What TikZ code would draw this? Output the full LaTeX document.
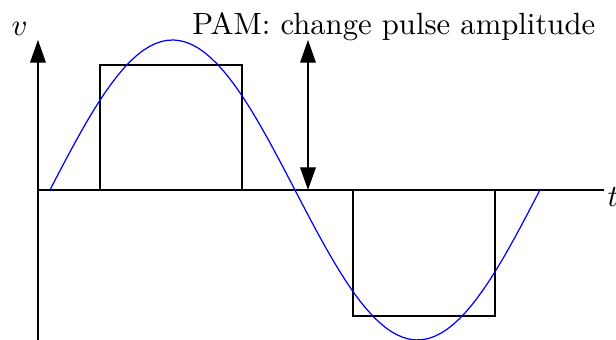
\documentclass[tikz,border=0pt]{standalone}
\usepackage{tikz}
\usetikzlibrary{arrows.meta}
\tikzset{
  axis line/.style={thin, black, -{Triangle[length=2.6mm, width=1.8mm]}},
  pulse box/.style={thin, black},
  carrier curve/.style={thin, blue},
  amp arrow/.style={thin, black, {Triangle[length=2.6mm, width=1.8mm]}-{Triangle[length=2.6mm, width=1.8mm]}},
}

\begin{document}
\begin{tikzpicture}
  \useasboundingbox (-0.435,-1.718) rectangle (6.621,2.176);
  % axes
  \coordinate (O) at (0,0);
  \coordinate (Vtop) at (0,1.718);
  \coordinate (Vbot) at (0,-1.718);
  \coordinate (Tend) at (6.483,0);
  \draw[thin] (O) -- (Tend);
  \node[anchor=west, inner sep=1pt] (tlab) at (6.483,-0.08) {$t$};
  \draw[axis line] (Vbot) -- (Vtop);
  \node (vlab) at (-0.21,1.84) {$v$};
  % pulses
  \draw[pulse box] (0.710,0) rectangle (2.337,1.432);
  \draw[pulse box] (3.608,0) rectangle (5.235,-1.443);
  % carrier
  \draw[carrier curve, samples=80, domain=0:360] plot ({0.137 + 5.613*\x/360}, {1.718*sin(\x)});
  % amplitude arrow
  \coordinate (Abot) at (3.093,0);
  \coordinate (Atop) at (3.093,1.718);
  \draw[amp arrow] (Abot) -- (Atop);
  \node[anchor=east, inner sep=0pt] (pam) at (6.39,1.87) {PAM: change pulse amplitude};
\end{tikzpicture}
\end{document}
